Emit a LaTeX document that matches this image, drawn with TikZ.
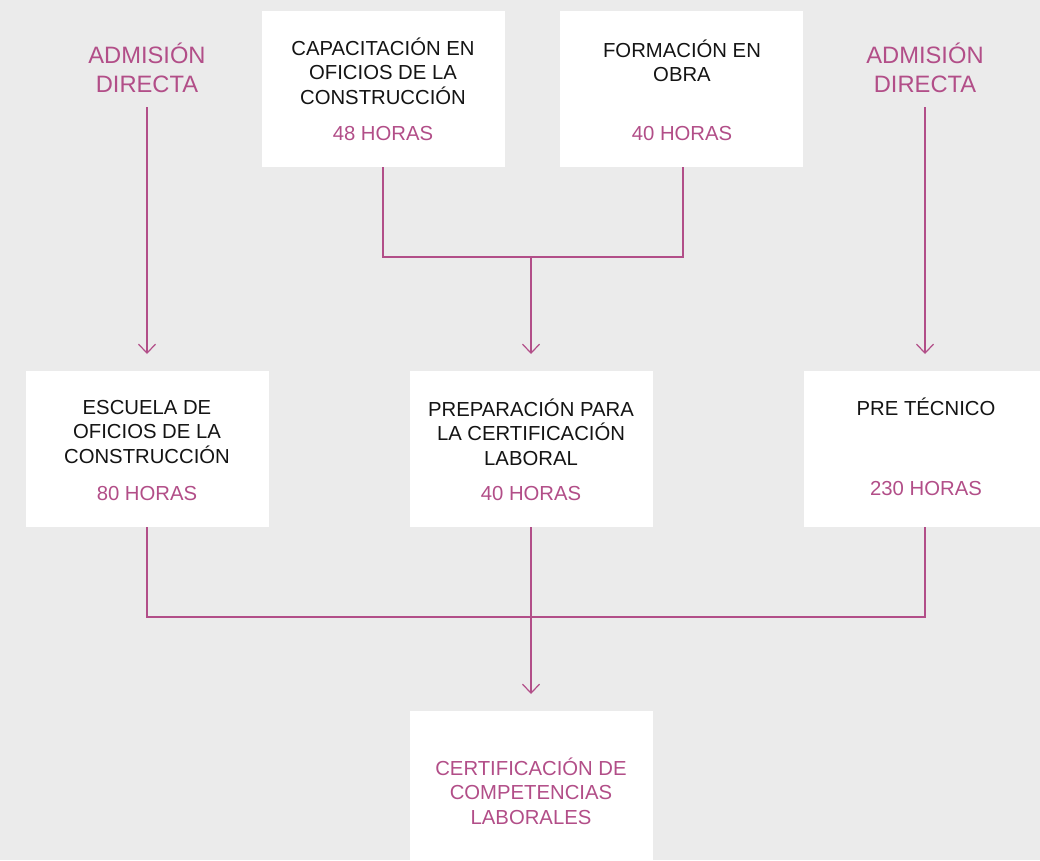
\documentclass[tikz,border=0pt]{standalone}
\usepackage{fontspec}
\setmainfont{Liberation Sans}
\usetikzlibrary{arrows.meta}
\definecolor{bg}{HTML}{EBEBEB}
\definecolor{rose}{RGB}{178,78,136}
\definecolor{ink}{HTML}{141414}
\begin{document}
\begin{tikzpicture}[x=1pt,y=-1pt,
  box/.style={fill=white,draw=none,inner sep=0pt,outer sep=0pt,minimum width=243pt,minimum height=156pt},
  ttl/.style={align=center,text=ink,font=\fontsize{20.3}{24.5}\selectfont,inner sep=0pt},
  hrs/.style={align=center,text=rose,font=\fontsize{20.3}{24.5}\selectfont,inner sep=0pt},
  adm/.style={align=center,text=rose,font=\fontsize{23.7}{29}\selectfont,inner sep=0pt},
  link/.style={draw=rose,line width=1.4pt},
  arr/.style={link,-{Straight Barb[length=9pt,width=17pt,line width=1.2pt]},shorten >=17pt}]
\useasboundingbox[fill=bg] (0,0) rectangle (1040,860);
% top row
\node[box] (capa) at (383,89) {};
\node[box] (obra) at (681,89) {};
\node[ttl] (capaT) at (383,71) {CAPACITACIÓN EN\\OFICIOS DE LA\\CONSTRUCCIÓN};
\node[hrs] (capaH) at (383,134) {48 HORAS};
\node[ttl] (obraT) at (682,61) {FORMACIÓN EN\\OBRA};
\node[hrs] (obraH) at (682,134) {40 HORAS};
\node[adm] (adm1) at (147,68) {ADMISIÓN\\DIRECTA};
\node[adm] (adm2) at (925,68) {ADMISIÓN\\DIRECTA};
% middle row
\node[box] (esc) at (147,449) {};
\node[box] (prep) at (531,449) {};
\node[box] (pret) at (925,449) {};
\node[ttl] (escT) at (147,432) {ESCUELA DE\\OFICIOS DE LA\\CONSTRUCCIÓN};
\node[hrs] (escH) at (147,494) {80 HORAS};
\node[ttl] (prepT) at (531,432) {PREPARACIÓN PARA\\LA CERTIFICACIÓN\\LABORAL};
\node[hrs] (prepH) at (531,494) {40 HORAS};
\node[ttl] (pretT) at (926,407) {PRE TÉCNICO};
\node[hrs] (pretH) at (926,489) {230 HORAS};
% bottom
\node[box,minimum height=160pt] (cert) at (531,791) {};
\node[hrs] (certT) at (531,791) {CERTIFICACIÓN DE\\COMPETENCIAS\\LABORALES};
% connectors
\coordinate (a1) at (147,107);
\coordinate (a2) at (925,107);
\coordinate (j1) at (531,257);
\coordinate (j2) at (531,617);
\draw[arr] (a1) -- (a1 |- esc.north);
\draw[arr] (a2) -- (a2 |- pret.north);
\draw[link] (capa.south) |- (j1) -| ([xshift=2pt]obra.south);
\draw[arr] (j1) -- (prep.north);
\draw[link] (esc.south) |- (j2) -| (pret.south);
\draw[link] (prep.south) -- (j2);
\draw[arr] (j2) -- (cert.north);
\end{tikzpicture}
\end{document}
